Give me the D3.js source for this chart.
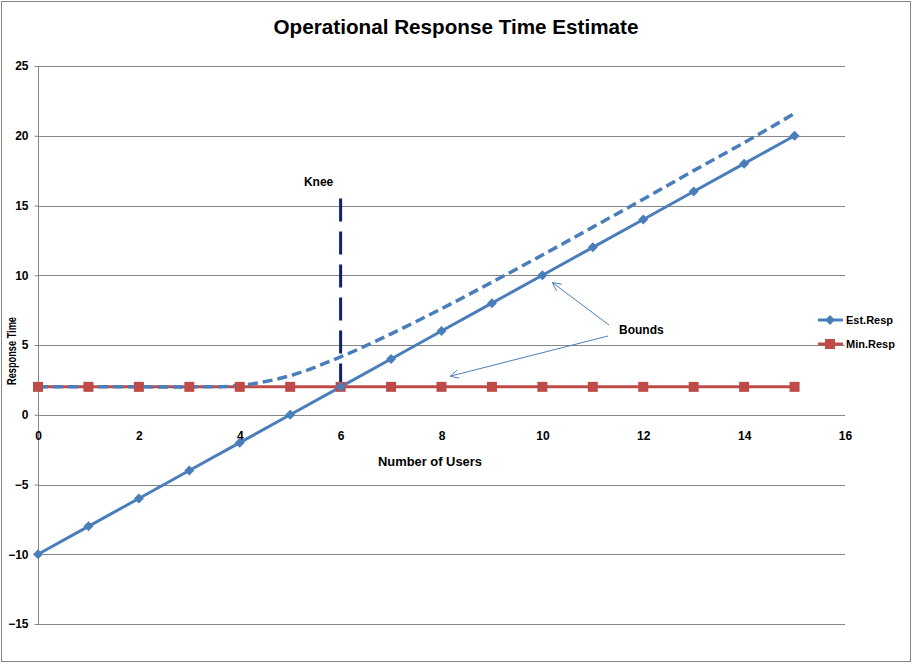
<!DOCTYPE html>
<html><head><meta charset="utf-8">
<script src="https://cdn.jsdelivr.net/npm/d3@7"></script>
<style>
html,body{margin:0;padding:0;background:#fff;}
svg text{font-family:"Liberation Sans Narrow","Arial Narrow","Liberation Sans",sans-serif;font-weight:bold;fill:#000;}
</style></head>
<body>
<svg id="chart" width="913" height="664"></svg>
<script>
const users = [0,1,2,3,4,5,6,7,8,9,10,11,12,13,14,15];
const estResp = [-10,-8,-6,-4,-2,0,2,4,6,8,10,12,14,16,18,20];
const minResp = [2,2,2,2,2,2,2,2,2,2,2,2,2,2,2,2];
const boundCurve = [2,2,2,2,2.1,2.8,4.15,5.8,7.6,9.5,11.45,13.45,15.45,17.5,19.5,21.6];
const yTicks = [-15,-10,-5,0,5,10,15,20,25];
const xTicks = [0,2,4,6,8,10,12,14,16];
const kneeX = 6, kneeTop = 15.5, kneeBottom = 2;
const seriesNames = ["Est.Resp","Min.Resp"];

const blue = "#4a7ebb", red = "#be4b48", grid = "#868686";
const svg = d3.select("#chart");

svg.append("rect").attr("x",1.5).attr("y",1.5).attr("width",909).attr("height",660)
  .attr("fill","#fff").attr("stroke",grid).attr("stroke-width",1);

const x = d3.scaleLinear().domain([0,16]).range([38,845]);
const y = d3.scaleLinear().domain([-15,25]).range([624,66]);

// gridlines
svg.append("g").selectAll("line").data(yTicks).join("line")
  .attr("x1",x(0)).attr("x2",x(16))
  .attr("y1",d=>Math.round(y(d))+0.5).attr("y2",d=>Math.round(y(d))+0.5)
  .attr("stroke",grid).attr("stroke-width",1);

// y axis
const yAxis = svg.append("g").attr("transform",`translate(${x(0)+0.5},0)`)
  .call(d3.axisLeft(y).tickValues(yTicks).tickSize(4).tickPadding(6).tickFormat(d3.format("d")));
yAxis.select(".domain").attr("stroke",grid).attr("d",`M0,${y(25)}V${y(-15)}`);
yAxis.selectAll(".tick line").attr("stroke",grid);
yAxis.selectAll(".tick text").attr("font-size",12).style("font-family",'"Liberation Sans Narrow","Arial Narrow",sans-serif').style("font-weight","bold").attr("fill","#000");

// x axis labels (axis at y=0)
const xAxis = svg.append("g").attr("transform",`translate(0,${Math.round(y(0))+0.5})`)
  .call(d3.axisBottom(x).tickValues(xTicks).tickSize(0).tickPadding(16).tickFormat(d3.format("d")));
xAxis.select(".domain").remove();
xAxis.selectAll(".tick text").attr("font-size",12).style("font-family",'"Liberation Sans Narrow","Arial Narrow",sans-serif').style("font-weight","bold").attr("fill","#000");

// axis titles
svg.append("text").attr("x",430).attr("y",466).attr("text-anchor","middle")
  .attr("font-size",13).attr("textLength",104).attr("lengthAdjust","spacingAndGlyphs").text("Number of Users");
svg.append("text").attr("transform","translate(16,351) rotate(-90)").attr("text-anchor","middle")
  .attr("font-size",12).attr("textLength",68).attr("lengthAdjust","spacingAndGlyphs").text("Response Time");

// title
svg.append("text").attr("x",456).attr("y",34).attr("text-anchor","middle")
  .attr("font-size",21).attr("textLength",365).attr("lengthAdjust","spacingAndGlyphs")
  .text("Operational Response Time Estimate");

// Min.Resp line
const line = d3.line().x((d,i)=>x(users[i])).y(d=>y(d));
svg.append("path").datum(minResp).attr("d",line).attr("fill","none").attr("stroke",red).attr("stroke-width",3);

// bound curve (dashed)
const curveLine = d3.line().x((d,i)=>x(users[i])).y(d=>y(d)).curve(d3.curveCatmullRom.alpha(0.5));
svg.append("path").datum(boundCurve).attr("d",curveLine).attr("fill","none")
  .attr("stroke",blue).attr("stroke-width",3.5).attr("stroke-dasharray","10,5");

// knee line
svg.append("line").attr("x1",x(kneeX)).attr("x2",x(kneeX)).attr("y1",y(kneeTop)).attr("y2",y(kneeBottom))
  .attr("stroke","#0c2466").attr("stroke-width",3).attr("stroke-dasharray","23,10");
svg.append("text").attr("x",x(kneeX)-22).attr("y",186).attr("text-anchor","middle").attr("font-size",12).text("Knee");

// Est.Resp line
svg.append("path").datum(estResp).attr("d",line).attr("fill","none").attr("stroke",blue).attr("stroke-width",3);

// markers
const diamond = s => `M0,${-s}L${s},0L0,${s}L${-s},0Z`;
svg.append("g").selectAll("rect").data(minResp).join("rect")
  .attr("x",(d,i)=>x(users[i])-5).attr("y",d=>y(d)-5).attr("width",10).attr("height",10).attr("fill",red);
svg.append("g").selectAll("path").data(estResp).join("path")
  .attr("transform",(d,i)=>`translate(${x(users[i])},${y(d)})`).attr("d",diamond(5)).attr("fill",blue);

// Bounds annotation
const defs = svg.append("defs");
defs.append("marker").attr("id","arr").attr("viewBox","0 0 10 10").attr("refX",9).attr("refY",5)
  .attr("markerWidth",9).attr("markerHeight",9).attr("markerUnits","userSpaceOnUse").attr("orient","auto")
  .append("path").attr("d","M0,0L10,5L0,10").attr("fill","none").attr("stroke",blue).attr("stroke-width",1);
svg.append("line").attr("x1",609).attr("y1",325).attr("x2",553).attr("y2",283)
  .attr("stroke",blue).attr("stroke-width",1).attr("marker-end","url(#arr)");
svg.append("line").attr("x1",608).attr("y1",336).attr("x2",451).attr("y2",376)
  .attr("stroke",blue).attr("stroke-width",1).attr("marker-end","url(#arr)");
svg.append("text").attr("x",619).attr("y",334).attr("font-size",12).text("Bounds");

// legend
const leg = svg.append("g");
[0,1].forEach(i=>{
  const ly = 320 + i*24;
  leg.append("line").attr("x1",818).attr("x2",843).attr("y1",ly).attr("y2",ly)
    .attr("stroke", i===0?blue:red).attr("stroke-width",3);
  if(i===0) leg.append("path").attr("transform",`translate(830,${ly})`).attr("d",diamond(5)).attr("fill",blue);
  else leg.append("rect").attr("x",825).attr("y",ly-5).attr("width",10).attr("height",10).attr("fill",red);
  leg.append("text").attr("x",846).attr("y",ly+4).attr("font-size",11).text(seriesNames[i]);
});
</script>
</body></html>
